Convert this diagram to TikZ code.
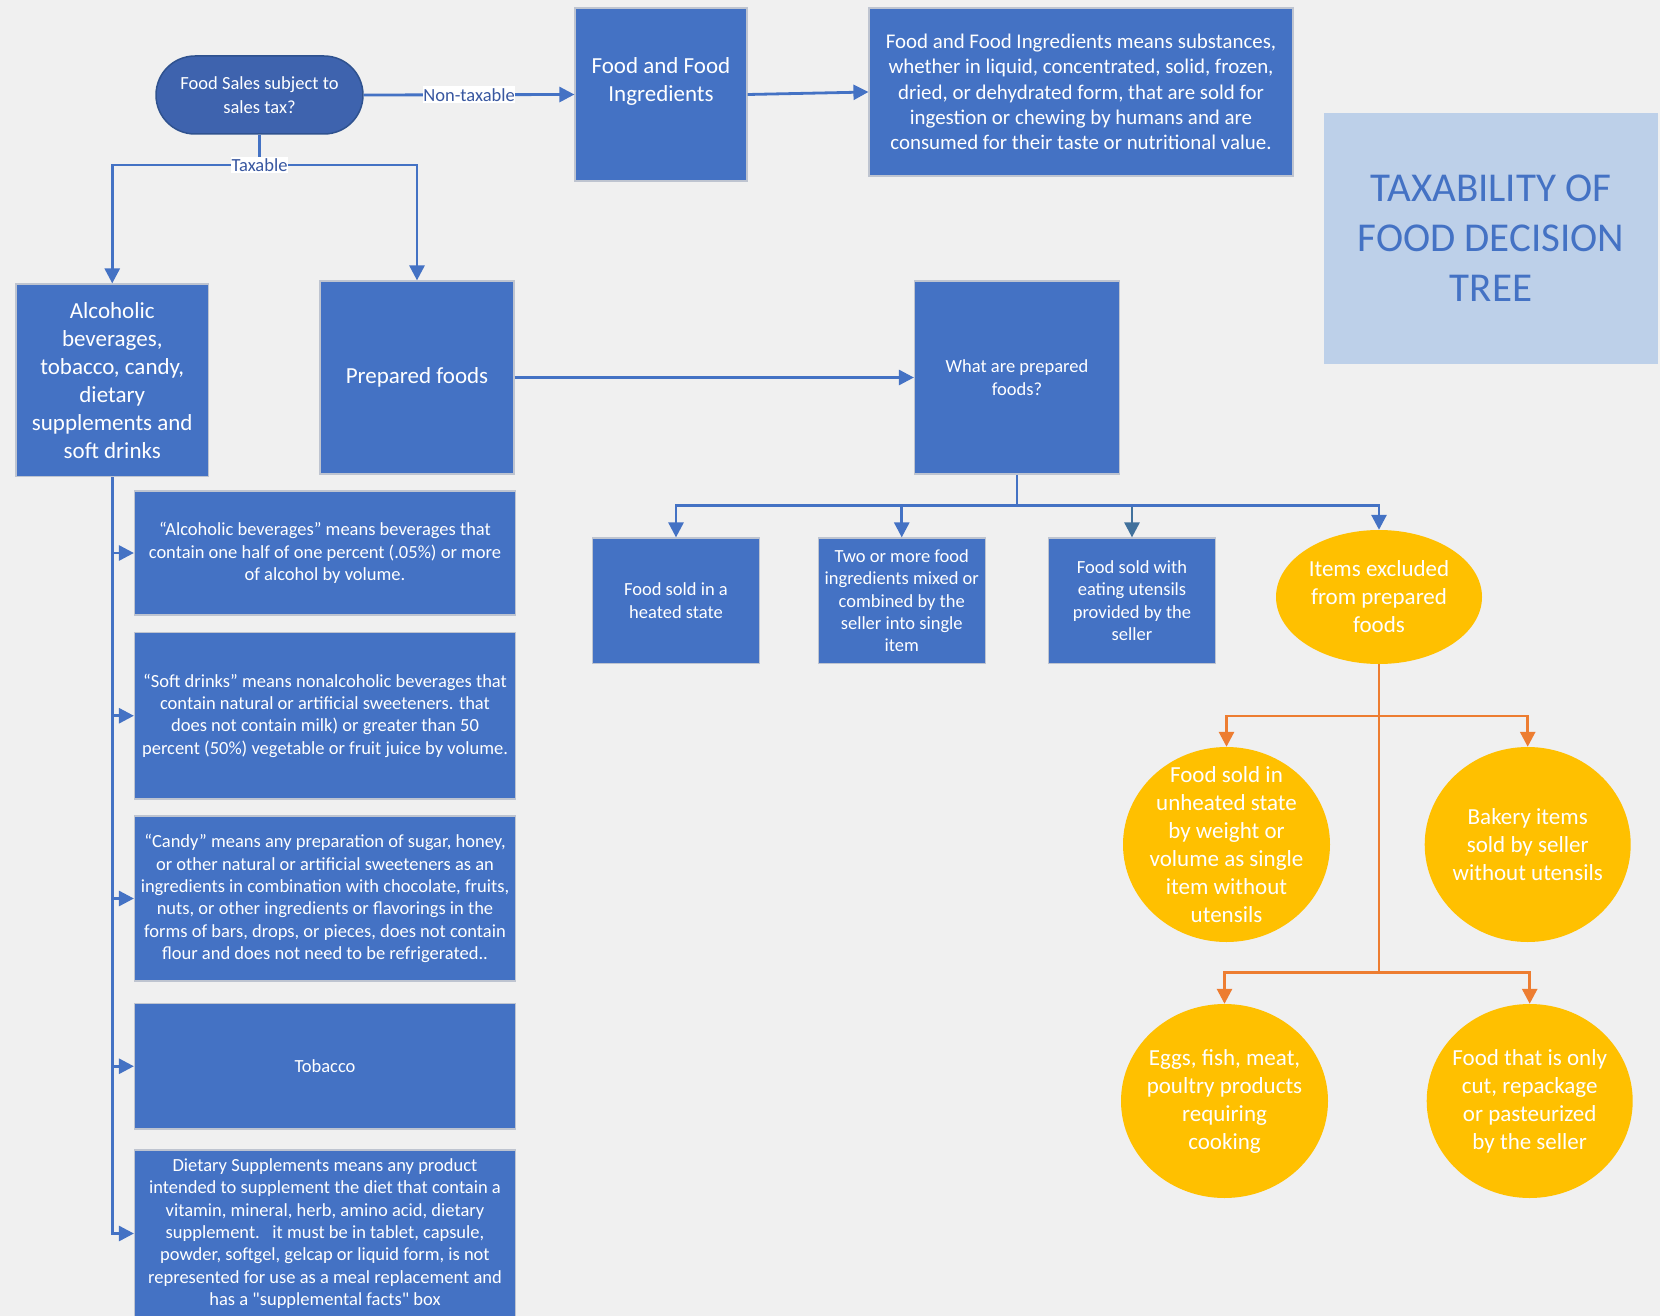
\documentclass[tikz,border=0pt]{standalone}
\usepackage{fontspec}
\setmainfont{Carlito}
\usetikzlibrary{arrows.meta,shapes.geometric}
\definecolor{bgc}{RGB}{240,240,240}
\definecolor{boxblue}{RGB}{68,114,196}
\definecolor{startblue}{RGB}{62,99,174}
\definecolor{startedge}{RGB}{47,82,143}
\definecolor{edgegray}{RGB}{190,196,208}
\definecolor{titlefill}{RGB}{189,208,233}
\definecolor{titletext}{RGB}{68,114,196}
\definecolor{linkblue}{RGB}{68,114,196}
\definecolor{darklink}{RGB}{65,113,156}
\definecolor{lbltext}{RGB}{56,87,160}
\definecolor{ygold}{RGB}{255,192,0}
\definecolor{orng}{RGB}{237,125,49}
\newcommand\fsSmall{\fontsize{18.5}{22.3}\selectfont}
\newcommand\fsStart{\fontsize{18.5}{24}\selectfont}
\newcommand\fsDesc{\fontsize{20.9}{25.25}\selectfont}
\newcommand\fsMed{\fontsize{23}{28}\selectfont}
\newcommand\fsTitle{\fontsize{41}{50}\selectfont}
\tikzset{
  bluebox/.style={rectangle, fill=boxblue, draw=edgegray, line width=1.2pt, inner sep=0pt, text=white, align=center},
  startbox/.style={rectangle, rounded corners=39pt, fill=startblue, draw=startedge, line width=1.5pt, inner sep=0pt, text=white, align=center, font=\fsStart, minimum width=207pt, minimum height=78pt},
  ybox/.style={ellipse, fill=ygold, draw=none, inner sep=-30pt, text=white, align=center, font=\fsMed},
  titlebox/.style={rectangle, fill=titlefill, draw=none, inner sep=0pt, text=titletext, align=center, font=\fsTitle},
  txt/.style={inner sep=0pt, text=white, align=center},
  conn/.style={draw=linkblue, line width=2.8pt, -{Triangle[length=15pt,width=15pt]}},
  plain/.style={draw=linkblue, line width=2.8pt},
  oconn/.style={draw=orng, line width=2.8pt, -{Triangle[length=15pt,width=15pt]}},
  lbl/.style={fill=white, inner xsep=0.5pt, inner ysep=2pt, text=lbltext, font=\fsSmall},
  defbox/.style={bluebox, minimum width=381pt, font=\fsSmall},
  smallbox/.style={bluebox, minimum width=167pt, minimum height=125.5pt, font=\fsSmall}
}
\begin{document}
\begin{tikzpicture}[x=1pt,y=-1pt]
\path[use as bounding box, fill=bgc] (0,0) rectangle (1660,1316);

% top row
\node[startbox] (start) at (259.5,95) {Food Sales subject to\\sales tax?};
\node[bluebox, minimum width=172pt, minimum height=173pt] (ffi) at (661,94.5) {};
\node[txt, font=\fsMed] (ffit) at (661,81) {Food and Food\\Ingredients};
\node[bluebox, minimum width=424pt, minimum height=168pt, font=\fsDesc] (desc) at (1081,92)
  {Food and Food Ingredients means substances,\\whether in liquid, concentrated, solid, frozen,\\dried, or dehydrated form, that are sold for\\ingestion or chewing by humans and are\\consumed for their taste or nutritional value.};
\node[titlebox, minimum width=334pt, minimum height=251pt] (title) at (1491,238.5) {TAXABILITY OF\\FOOD DECISION\\TREE};

% second row
\node[bluebox, minimum width=192.5pt, minimum height=192.5pt, font=\fsMed] (alc) at (112.25,380.25)
  {Alcoholic\\beverages,\\tobacco, candy,\\dietary\\supplements and\\soft drinks};
\node[bluebox, minimum width=194pt, minimum height=193pt, font=\fsMed] (prep) at (417,377.5) {Prepared foods};
\node[bluebox, minimum width=205pt, minimum height=193pt, font=\fsSmall] (what) at (1017,377.5) {What are prepared\\foods?};

% definitions column
\node[defbox, minimum height=124pt] (d1) at (325,553)
  {“Alcoholic beverages” means beverages that\\contain one half of one percent (.05\%) or more\\of alcohol by volume.};
\node[defbox, minimum height=166.5pt] (d2) at (325,715.75)
  {“Soft drinks” means nonalcoholic beverages that\\contain natural or artificial sweeteners. that\\does not contain milk) or greater than 50\\percent (50\%) vegetable or fruit juice by volume.};
\node[defbox, minimum height=165pt] (d3) at (325,898.5)
  {“Candy” means any preparation of sugar, honey,\\or other natural or artificial sweeteners as an\\ingredients in combination with chocolate, fruits,\\nuts, or other ingredients or flavorings in the\\forms of bars, drops, or pieces, does not contain\\flour and does not need to be refrigerated..};
\node[defbox, minimum height=125.5pt] (d4) at (325,1066.25) {Tobacco};
\node[defbox, minimum height=167pt] (d5) at (325,1233.5)
  {Dietary Supplements means any product\\intended to supplement the diet that contain a\\vitamin, mineral, herb, amino acid, dietary\\supplement.\ \ \ it must be in tablet, capsule,\\powder, softgel, gelcap or liquid form, is not\\represented for use as a meal replacement and\\has a \textquotedbl supplemental facts\textquotedbl\ box};

% prepared foods children
\node[smallbox] (pa) at (676,600.75) {Food sold in a\\heated state};
\node[smallbox] (pb) at (901.75,600.75) {Two or more food\\ingredients mixed or\\combined by the\\seller into single\\item};
\node[smallbox] (pc) at (1132,600.75) {Food sold with\\eating utensils\\provided by the\\seller};
\node[ybox, minimum width=206pt, minimum height=134pt] (items) at (1379,597) {Items excluded\\from prepared\\foods};

% exclusions
\node[ybox, minimum width=207pt, minimum height=195pt] (e1) at (1226.5,844.5)
  {Food sold in\\unheated state\\by weight or\\volume as single\\item without\\utensils};
\node[ybox, minimum width=206pt, minimum height=195pt] (e2) at (1527.7,844.5)
  {Bakery items\\sold by seller\\without utensils};
\node[ybox, minimum width=207pt, minimum height=194pt] (e3) at (1224.5,1101)
  {Eggs, fish, meat,\\poultry products\\requiring\\cooking};
\node[ybox, minimum width=206pt, minimum height=194pt] (e4) at (1529.7,1101)
  {Food that is only\\cut, repackage\\or pasteurized\\by the seller};

% junction coordinates
\coordinate (tj) at (start.south |- 0,165);
\coordinate (wj) at (what.south |- 0,505.7);
\coordinate (oj1) at (items.south |- 0,716);
\coordinate (oj2) at (items.south |- 0,972.5);

% connectors
\draw[conn] (start.east) -- node[lbl] (ntx) {Non-taxable} (ffi.west);
\draw[conn] (ffi.east) -- (desc.west);
\draw[plain] (start.south) -- (tj);
\draw[conn] (tj) -| (alc.north);
\draw[conn] (tj) -| (prep.north);
\node[lbl] (txl) at (tj) {Taxable};

\draw[conn] (alc.south) |- (d1.west);
\draw[conn] (alc.south) |- (d2.west);
\draw[conn] (alc.south) |- (d3.west);
\draw[conn] (alc.south) |- (d4.west);
\draw[conn] (alc.south) |- (d5.west);

\draw[conn] (prep.east) -- (what.west);
\draw[plain] (what.south) -- (wj);
\draw[conn] (wj) -| (pa.north);
\draw[conn] (wj) -| (pb.north);
\draw[conn, draw=darklink] (wj) -| (pc.north);
\draw[conn] (wj) -| (items.north);

\draw[draw=orng, line width=2.8pt] (items.south) -- (oj2);
\draw[oconn] (oj1) -| (e1.north);
\draw[oconn] (oj1) -| (e2.north);
\draw[oconn] (oj2) -| (e3.north);
\draw[oconn] (oj2) -| (e4.north);
\end{tikzpicture}
\end{document}
